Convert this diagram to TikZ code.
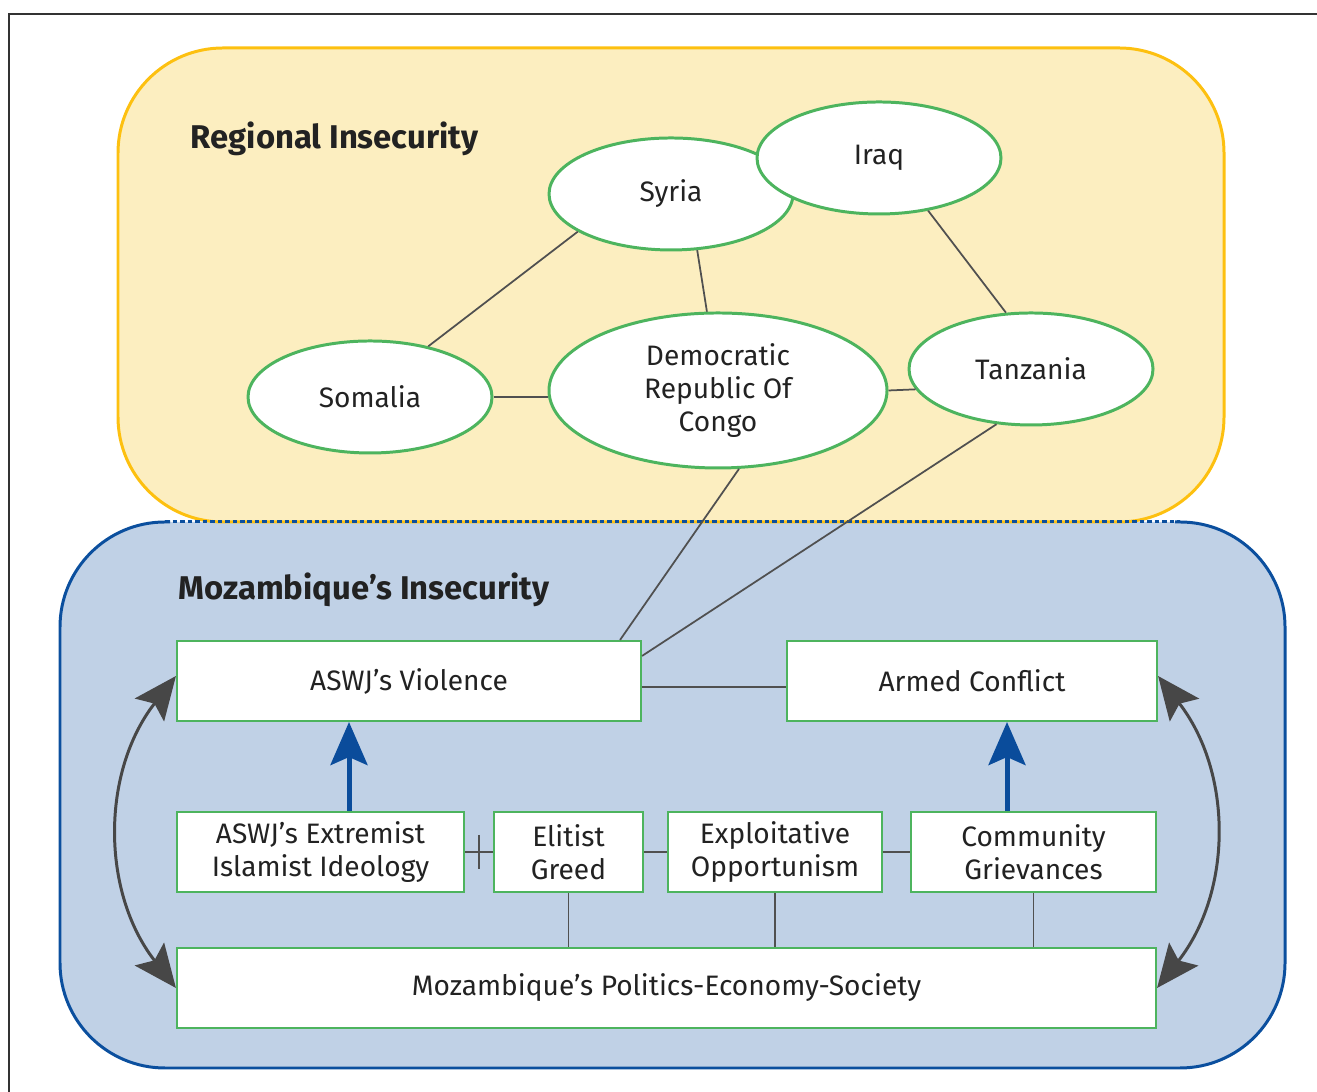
\documentclass[tikz,border=0pt]{standalone}
\usepackage{fontspec}
\setmainfont{Fira Sans}
\usepackage{tikz}
\usetikzlibrary{arrows.meta,shapes.geometric,calc}

\definecolor{regfill}{HTML}{FCEEC0}
\definecolor{regline}{HTML}{FDC010}
\definecolor{mozfill}{HTML}{C0D1E6}
\definecolor{mozline}{HTML}{0B4F9E}
\definecolor{boxline}{HTML}{4DB45E}
\definecolor{pushcol}{HTML}{0A4C9B}
\definecolor{loopcol}{HTML}{474747}
\definecolor{linkcol}{HTML}{505050}
\definecolor{txtcol}{HTML}{222222}

\tikzset{
  country/.style={ellipse, draw=boxline, line width=0.85pt, fill=white, inner sep=0pt,
    minimum width=2.44cm, minimum height=1.12cm, text=txtcol,
    font=\fontsize{8.0}{9.5}\selectfont, align=center},
  factor/.style={rectangle, draw=boxline, line width=0.6pt, fill=white, inner sep=0pt,
    minimum height=0.80cm, text=txtcol, font=\fontsize{8.0}{9.5}\selectfont, align=center},
  heading/.style={anchor=west, inner sep=0pt, text=txtcol, font=\fontsize{9.35}{11}\selectfont\bfseries},
  link/.style={draw=linkcol, line width=0.5pt},
  push/.style={draw=pushcol, line width=0.05cm,
    -{Stealth[length=0.43cm, width=0.37cm, inset=0.08cm]}},
  feedback/.style={draw=loopcol, line width=0.85pt,
    {Stealth[length=0.43cm, width=0.37cm, inset=0.08cm]}-{Stealth[length=0.43cm, width=0.37cm, inset=0.08cm]}}
}

\begin{document}
\begin{tikzpicture}
        \useasboundingbox (0, 0) rectangle (13.17, 10.92);

        % Rahmen
        \draw[black!80, line width=0.6pt] (13.4, 10.78) -- (0.09, 10.78) -- (0.09, -0.2);

        % Bereiche
        \fill[mozfill, rounded corners=1.05cm] (0.60, 0.24) rectangle (12.85, 5.70);
        \draw[mozline, line width=0.85pt, rounded corners=1.05cm]
            (1.70, 5.70) -- (0.60, 5.70) -- (0.60, 0.24) -- (12.85, 0.24) -- (12.85, 5.70) -- (11.75, 5.70);
        \draw[regline, fill=regfill, line width=0.85pt, rounded corners=1.05cm] (1.18, 5.70) rectangle (12.24, 10.44);
        \draw[mozline, line width=0.85pt, dash pattern=on 0.045cm off 0.03cm] (1.65, 5.70) -- (11.80, 5.70);

        % Überschriften
        \node[heading] (regtitle) at (1.90, 9.53) {Regional Insecurity};
        \node[heading] (moztitle) at (1.78, 5.02) {Mozambique’s Insecurity};

        % Länder
        \node[country] (syria) at (6.71, 8.98) {Syria};
        \node[country] (iraq) at (8.79, 9.34) {Iraq};
        \node[country] (somalia) at (3.70, 6.95) {Somalia};
        \node[country, minimum width=3.38cm, minimum height=1.55cm] (drc) at (7.18, 7.015) {Democratic\\Republic Of\\Congo};
        \node[country] (tanzania) at (10.31, 7.23) {Tanzania};

        % Kästchen
        \node[factor, minimum width=4.64cm] (violence) at (4.09, 4.11) {ASWJ’s Violence};
        \node[factor, minimum width=3.70cm] (conflict) at (9.72, 4.11) {Armed Conflict};
        \node[factor, minimum width=2.87cm] (ideology) at (3.205, 2.40) {ASWJ’s Extremist\\Islamist Ideology};
        \node[factor, minimum width=1.49cm] (greed) at (5.685, 2.40) {Elitist\\Greed};
        \node[factor, minimum width=2.14cm] (opport) at (7.75, 2.40) {Exploitative\\Opportunism};
        \node[factor, minimum width=2.45cm] (grievance) at (10.335, 2.40) {Community\\Grievances};
        \node[factor, minimum width=9.79cm] (politics) at (6.665, 1.04) {Mozambique’s Politics-Economy-Society};

        % Verbindungen oben
        \draw[link] (syria.202) -- (somalia.41);
        \draw[link] (syria.295) -- (drc.98);
        \draw[link] (iraq.313) -- (tanzania.114);
        \draw[link] (somalia.east) -- (somalia.east -| drc.west);
        \draw[link] (drc.east) -- (tanzania.190);
        \draw[link] (drc.285) -- ([xshift=-0.22cm]violence.north east);
        \draw[link] (tanzania.238) -- ([yshift=-0.16cm]violence.north east);

        % Verbindungen unten
        \draw[link] ([yshift=-0.06cm]violence.east) -- ([yshift=-0.06cm]conflict.west);
        \draw[link] (ideology.east) -- (greed.west);
        \coordinate (tick) at ($(ideology.east)!0.5!(greed.west)$);
        \draw[link] ([yshift=0.17cm]tick) -- ([yshift=-0.17cm]tick);
        \draw[link] (greed.east) -- (opport.west);
        \draw[link] (opport.east) -- (grievance.west);
        \draw[link] (greed.south) -- (greed.south |- politics.north);
        \draw[link] (opport.south) -- (opport.south |- politics.north);
        \draw[link] (grievance.south) -- (grievance.south |- politics.north);

        % Pfeile
        \draw[push] ([xshift=0.285cm]ideology.north) -- ([xshift=0.285cm]ideology.north |- violence.south);
        \draw[push] ([xshift=-0.265cm]grievance.north) -- ([xshift=-0.265cm]grievance.north |- conflict.south);
        \draw[feedback] ([yshift=0.05cm]violence.west) to[bend right=38] (politics.west);
        \draw[feedback] ([yshift=0.05cm]conflict.east) to[bend left=38] (politics.east);

    \end{tikzpicture}
\end{document}
